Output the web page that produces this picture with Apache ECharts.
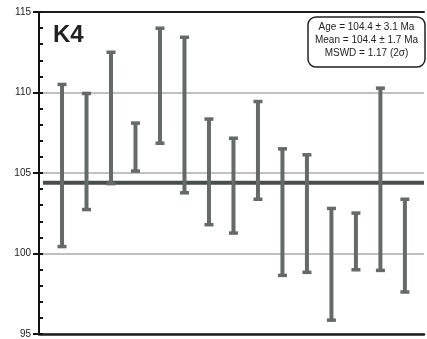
<!DOCTYPE html>
<html><head><meta charset="utf-8">
<script src="https://cdn.jsdelivr.net/npm/echarts@6/dist/echarts.min.js"></script>
<style>html,body{margin:0;padding:0;background:#fff}#c{width:427px;height:339px}</style>
</head><body><div id="c"></div>
<script>
var analyses = [1,2,3,4,5,6,7,8,9,10,11,12,13,14,15];
var lows  = [100.43,102.73,104.34,105.12,106.85,103.77,101.79,101.27,103.37,98.64,98.83,95.86,98.99,98.95,97.61];
var highs = [110.50,109.94,112.50,108.10,113.99,113.43,108.35,107.16,109.44,106.50,106.13,102.80,102.51,110.27,103.37];
var meanAge = 104.4;
var yTicks = [95,100,105,110,115];
var title = 'K4';
var statLines = ['Age = 104.4 \u00b1 3.1 Ma','Mean = 104.4 \u00b1 1.7 Ma','MSWD = 1.17 (2\u03c3)'];

var xMin = 0.06, xMax = 15.78;
var barData = analyses.map(function(a,i){return [a, lows[i], highs[i]];});
var FONT = '"Liberation Sans", Arial, sans-serif';

var chart = echarts.init(document.getElementById('c'));
chart.setOption({
  animation:false,
  backgroundColor:'#fff',
  grid:{left:39,right:3,top:12,bottom:2.5},
  xAxis:[
    {type:'value',min:xMin,max:xMax,position:'bottom',
     axisLine:{show:true,onZero:false,lineStyle:{color:'#1e1e1e',width:2.5}},
     axisTick:{show:false},axisLabel:{show:false},splitLine:{show:false}},
    {type:'value',min:xMin,max:xMax,position:'top',
     axisLine:{show:true,onZero:false,lineStyle:{color:'#1e1e1e',width:2}},
     axisTick:{show:false},axisLabel:{show:false},splitLine:{show:false}}
  ],
  yAxis:[
    {type:'value',min:yTicks[0],max:yTicks[yTicks.length-1],interval:5,
     axisLine:{show:true,onZero:false,lineStyle:{color:'#111',width:2}},
     axisTick:{show:true,inside:true,length:4,lineStyle:{color:'#111',width:2}},
     minorTick:{show:true,splitNumber:5,length:4,lineStyle:{color:'#111',width:2}},
     axisLabel:{show:false},
     splitLine:{show:true,lineStyle:{color:'#a9acab',width:1.6}}},
    {type:'value',min:yTicks[0],max:yTicks[yTicks.length-1],interval:5,position:'left',
     axisLine:{show:false},
     axisTick:{show:true,inside:false,length:6,lineStyle:{color:'#111',width:2}},
     axisLabel:{show:true,margin:8,color:'#222',fontSize:10,fontFamily:FONT},
     splitLine:{show:false}}
  ],
  series:[
    {type:'line',xAxisIndex:0,yAxisIndex:0,symbol:'none',silent:true,z:3,
     data:[[0.22,meanAge],[xMax,meanAge]],
     lineStyle:{color:'#474d4b',width:4}},
    {type:'custom',xAxisIndex:0,yAxisIndex:0,z:4,data:barData,
     renderItem:function(params,api){
       var x=api.value(0);
       var lo=api.coord([x,api.value(1)]);
       var hi=api.coord([x,api.value(2)]);
       var st={fill:'#646a68'};
       var cw=9,ch=3.5,bw=4;
       return {type:'group',children:[
         {type:'rect',shape:{x:lo[0]-bw/2,y:hi[1],width:bw,height:lo[1]-hi[1]},style:st},
         {type:'rect',shape:{x:hi[0]-cw/2,y:hi[1]-ch/2,width:cw,height:ch},style:st},
         {type:'rect',shape:{x:lo[0]-cw/2,y:lo[1]-ch/2,width:cw,height:ch},style:st}
       ]};
     }}
  ],
  graphic:[
    {type:'text',left:53,top:23,style:{text:title,font:'bold 24px '+FONT,fill:'#222'}},
    {type:'rect',shape:{x:308,y:17,width:117,height:50,r:8},style:{fill:'#fff',stroke:'#222',lineWidth:1.5},z:10},
    {type:'text',x:366.5,y:27.3,z:11,style:{text:statLines[0],font:'10px '+FONT,fill:'#222',align:'center',verticalAlign:'middle'}},
    {type:'text',x:366.5,y:40.7,z:11,style:{text:statLines[1],font:'10px '+FONT,fill:'#222',align:'center',verticalAlign:'middle'}},
    {type:'text',x:366.5,y:53.3,z:11,style:{text:statLines[2],font:'10px '+FONT,fill:'#222',align:'center',verticalAlign:'middle'}}
  ]
});
</script></body></html>
